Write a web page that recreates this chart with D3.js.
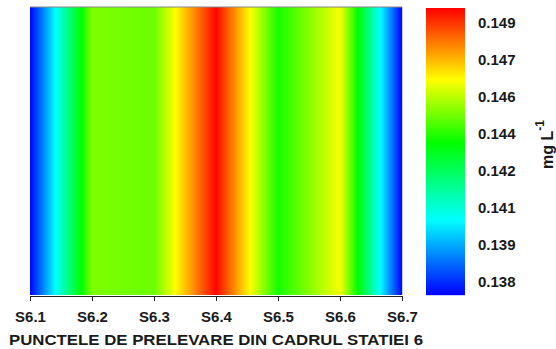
<!DOCTYPE html>
<html>
<head>
  <meta charset="utf-8">
  <title>statia 6</title>
  <script src="https://d3js.org/d3.v7.min.js"></script>
<style>
    body { margin: 0; background: #fff; }
    text { font-family: "Liberation Sans", Arial, sans-serif; font-weight: bold; fill: #1a1a1a; }
    .axis path, .axis line { stroke: #222; }
</style>
</head>
<body>
<div id="chart"></div>
<script>
// sampling points and the measured values (mg/L)
var stations = ["S6.1", "S6.2", "S6.3", "S6.4", "S6.5", "S6.6", "S6.7"];
var values   = [0.1371, 0.1449, 0.1447, 0.1493, 0.1438, 0.1462, 0.1371];

// colour bar
var cbTickValues = [0.13765, 0.13923, 0.14081, 0.14239, 0.14397, 0.14555, 0.14713, 0.14871];
var cbTickLabels = ["0.138", "0.139", "0.141", "0.142", "0.144", "0.146", "0.147", "0.149"];
var cbStops  = [0.13710, 0.14030, 0.14358, 0.14628, 0.14935];
var cbColors = ["#0000ff", "#00ffff", "#00ff00", "#ffff00", "#ff0000"];

var W = 556, H = 349;
var plot = {left: 30, right: 402, top: 7, bottom: 295};
var bar = {left: 426, right: 465, top: 8, bottom: 295};

var svg = d3.select("#chart").append("svg")
    .attr("width", W)
    .attr("height", H);

var x = d3.scalePoint()
    .domain(stations)
    .range([plot.left, plot.right]);

// value along x between sampling points
var valueAt = d3.scaleLinear()
    .domain(stations.map(function(s) { return x(s); }))
    .range(values);

var color = d3.scaleLinear()
    .domain(cbStops)
    .range(cbColors);

// heat map, one column per pixel
var cols = d3.range(plot.left, plot.right, 1);
svg.append("g").selectAll("rect")
    .data(cols)
    .enter()
    .append("rect")
    .attr("x", function(d) { return d; })
    .attr("y", plot.top)
    .attr("width", 1.2)
    .attr("height", plot.bottom - plot.top)
    .attr("fill", function(d) { return color(valueAt(d + 0.5)); });

// thin grey line on top of the map
svg.append("line")
    .attr("x1", plot.left).attr("x2", plot.right)
    .attr("y1", plot.top).attr("y2", plot.top)
    .attr("stroke", "#888").attr("stroke-width", 1.2);

// x axis
var xAxis = svg.append("g")
    .attr("class", "axis")
    .attr("transform", "translate(0," + (plot.bottom + 1) + ")")
    .call(d3.axisBottom(x).tickSize(5).tickSizeOuter(0));
xAxis.selectAll("text")
    .attr("y", 15)
    .style("font-size", "15px");
xAxis.select(".domain").attr("stroke-width", 1.2);

svg.append("text")
    .attr("x", 216)
    .attr("y", 345)
    .attr("text-anchor", "middle")
    .attr("textLength", 414)
    .attr("lengthAdjust", "spacingAndGlyphs")
    .style("font-size", "14px")
    .text("PUNCTELE DE PRELEVARE DIN CADRUL STATIEI 6");

// colour bar
var yc = d3.scaleLinear()
    .domain([cbStops[0], cbStops[cbStops.length - 1]])
    .range([bar.bottom, bar.top]);

var rows = d3.range(bar.top, bar.bottom, 1);
svg.append("g").selectAll("rect")
    .data(rows)
    .enter()
    .append("rect")
    .attr("x", bar.left)
    .attr("y", function(d) { return d; })
    .attr("width", bar.right - bar.left)
    .attr("height", 1.2)
    .attr("fill", function(d) { return color(yc.invert(d + 0.5)); });

svg.append("g").selectAll("text")
    .data(cbTickValues)
    .enter()
    .append("text")
    .attr("x", 478)
    .attr("y", function(d) { return yc(d); })
    .attr("dy", "0.35em")
    .style("font-size", "15px")
    .text(function(d, i) { return cbTickLabels[i]; });

// unit label
var unit = svg.append("text")
    .attr("transform", "translate(553,169) rotate(-90)")
    .style("font-size", "16px");
unit.append("tspan").text("mg L");
unit.append("tspan").attr("dy", -9).style("font-size", "12px").text("-1");
</script>
</body>
</html>
